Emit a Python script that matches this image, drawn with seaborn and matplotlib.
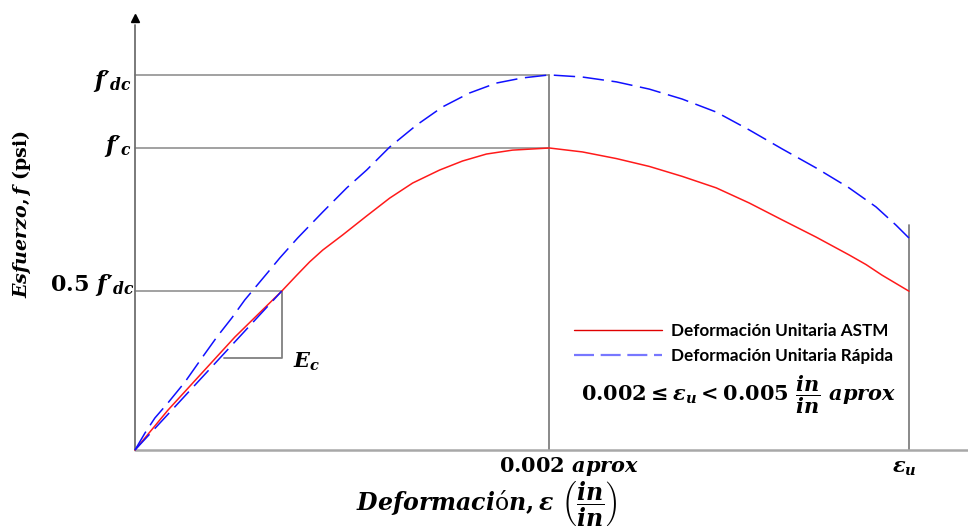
import matplotlib
matplotlib.use("Agg")
import matplotlib.pyplot as plt
import seaborn as sns
import pandas as pd
from matplotlib.lines import Line2D

# ---- data (strain in units of 1e-3, stress as fraction of f'c) ----
astm_strain = [0.0, 0.159, 0.323, 0.482, 0.708, 0.781, 0.843, 0.906, 1.002, 1.118,
               1.229, 1.340, 1.470, 1.581, 1.696, 1.822, 2.000, 2.159, 2.323, 2.482,
               2.641, 2.805, 2.964, 3.123, 3.287, 3.446, 3.528, 3.605, 3.735]
astm_stress = [0.0, 0.132, 0.255, 0.374, 0.526, 0.579, 0.623, 0.662, 0.712, 0.775,
               0.834, 0.884, 0.927, 0.957, 0.980, 0.993, 1.000, 0.987, 0.965, 0.939,
               0.906, 0.868, 0.818, 0.762, 0.705, 0.646, 0.614, 0.579, 0.526]
rapid_strain = [0.0, 0.048, 0.096, 0.159, 0.241, 0.323, 0.395, 0.467, 0.530, 0.641,
                0.699, 0.785, 0.906, 1.022, 1.118, 1.229, 1.359, 1.484, 1.614, 1.744,
                1.870, 2.000, 2.159, 2.323, 2.482, 2.641, 2.805, 2.964, 3.123, 3.287,
                3.446, 3.576, 3.672, 3.735]
rapid_stress = [0.0, 0.056, 0.106, 0.156, 0.225, 0.305, 0.374, 0.437, 0.497, 0.588,
                0.636, 0.702, 0.788, 0.868, 0.927, 1.003, 1.076, 1.136, 1.182, 1.215,
                1.232, 1.242, 1.235, 1.219, 1.195, 1.162, 1.119, 1.060, 0.997, 0.934,
                0.868, 0.805, 0.745, 0.702]
secant_strain = [0.0, 0.708]
secant_stress = [0.0, 0.526]

fc = 1.000          # f'c
fdc = 1.242         # f'dc
half_fdc = 0.526    # 0.5 f'dc level as drawn
eps_peak = 2.000    # 0.002 aprox
eps_u = 3.735       # eps_u
eps_u_top = 0.745
ec_corner = [0.708, 0.305]
ec_left = 0.429
x_end = 4.02
y_axis_top = 1.407
arrow_y = 1.430

legend_labels = ["Deformación Unitaria ASTM", "Deformación Unitaria Rápida"]

sns.set_theme(style="white")
plt.rcParams['font.family'] = ['DejaVu Sans']
plt.rcParams['text.color'] = 'black'
plt.rcParams['mathtext.fontset'] = 'custom'
plt.rcParams['mathtext.rm'] = 'DejaVu Serif:bold'
plt.rcParams['mathtext.it'] = 'DejaVu Serif:italic:bold'
plt.rcParams['mathtext.bf'] = 'DejaVu Serif:bold'

fig = plt.figure(figsize=(9.68, 5.32), dpi=100)
ax = fig.add_axes([120/968, 62/532, 848/968, 465/532])
ax.set_xlim(-0.0723, x_end)
ax.set_ylim(-0.0662, 1.4735)
ax.axis('off')

gray = '#9a9a9a'
# reference lines
ax.plot([0, eps_peak], [fdc, fdc], color=gray, lw=1.3)
ax.plot([0, eps_peak], [fc, fc], color=gray, lw=1.3)
ax.plot([0, secant_strain[1]], [half_fdc, half_fdc], color=gray, lw=1.3)
ax.plot([ec_corner[0], ec_corner[0], ec_left], [half_fdc, ec_corner[1], ec_corner[1]], color='#808080', lw=1.3)
ax.plot([eps_peak, eps_peak], [0, fdc], color='#808080', lw=1.3)
ax.plot([eps_u, eps_u], [0, eps_u_top], color='#808080', lw=1.3)
# axes
ax.plot([0, x_end], [0, 0], color='#a8a8a8', lw=1.8, clip_on=False)
ax.plot([0, 0], [0, y_axis_top], color='#707070', lw=1.3)
ax.plot([0], [arrow_y], marker='^', color='black', markersize=6)

# curves
df_a = pd.DataFrame({'strain': astm_strain, 'stress': astm_stress})
df_r = pd.DataFrame({'strain': rapid_strain, 'stress': rapid_stress})
df_s = pd.DataFrame({'strain': secant_strain, 'stress': secant_stress})
sns.lineplot(data=df_a, x='strain', y='stress', sort=False, estimator=None,
             color='#ff1a1a', lw=1.1, ax=ax)
sns.lineplot(data=df_r, x='strain', y='stress', sort=False, estimator=None,
             color='#1010ff', lw=1.1, ax=ax).lines[-1].set_dashes((14, 5))
sns.lineplot(data=df_s, x='strain', y='stress', sort=False, estimator=None,
             color='#1010ff', lw=1.1, ax=ax).lines[-1].set_dashes((14, 5))

# legend
handles = [Line2D([], [], color='#e00000', lw=1.0),
           Line2D([], [], color='#7777ff', lw=1.6, dashes=(9, 3))]
leg = ax.legend(handles, legend_labels, loc='upper left', frameon=False,
                bbox_to_anchor=(559/968, 1 - 308/532), bbox_transform=fig.transFigure,
                handlelength=5.1, handletextpad=0.55, labelspacing=0.5,
                prop={'family': 'Lato', 'weight': 'bold', 'size': 12.3})

fs = 15
ax.text(-0.0145, fdc - 0.02, r"$f\prime_{dc}$", ha='right', va='center', fontsize=fs + 1)
ax.text(-0.0145, fc + 0.005, r"$f\prime_{c}$", ha='right', va='center', fontsize=fs + 1)
ax.text(-0.005, half_fdc + 0.02, r"$0.5\ f\prime_{dc}$", ha='right', va='center', fontsize=fs + 1)
ax.text(0.761, 0.291, r"$E_c$", ha='left', va='center', fontsize=fs)
ax.text(2.096, -0.053, r"$0.002\ aprox$", ha='center', va='center', fontsize=fs)
ax.text(3.711, -0.060, r"$\varepsilon_u$", ha='center', va='center', fontsize=fs)
ax.text(2.915, 0.182, r"$0.002 \leq \varepsilon_u < 0.005\ \dfrac{in}{in}\ aprox$",
        ha='center', va='center', fontsize=fs)
ax.text(1.696, -0.180, r"$Deformaci$" + "ó" + r"$n, \varepsilon\ \left(\dfrac{in}{in}\right)$",
        ha='center', va='center', fontsize=17, family='DejaVu Serif')
fig.text(22/968, 1 - 214/532, r"$Esfuerzo, f$ (psi)", rotation=90, ha='center', va='center',
         fontsize=13.7, family='DejaVu Serif', weight='bold')

fig.savefig('out.png', dpi=100)
